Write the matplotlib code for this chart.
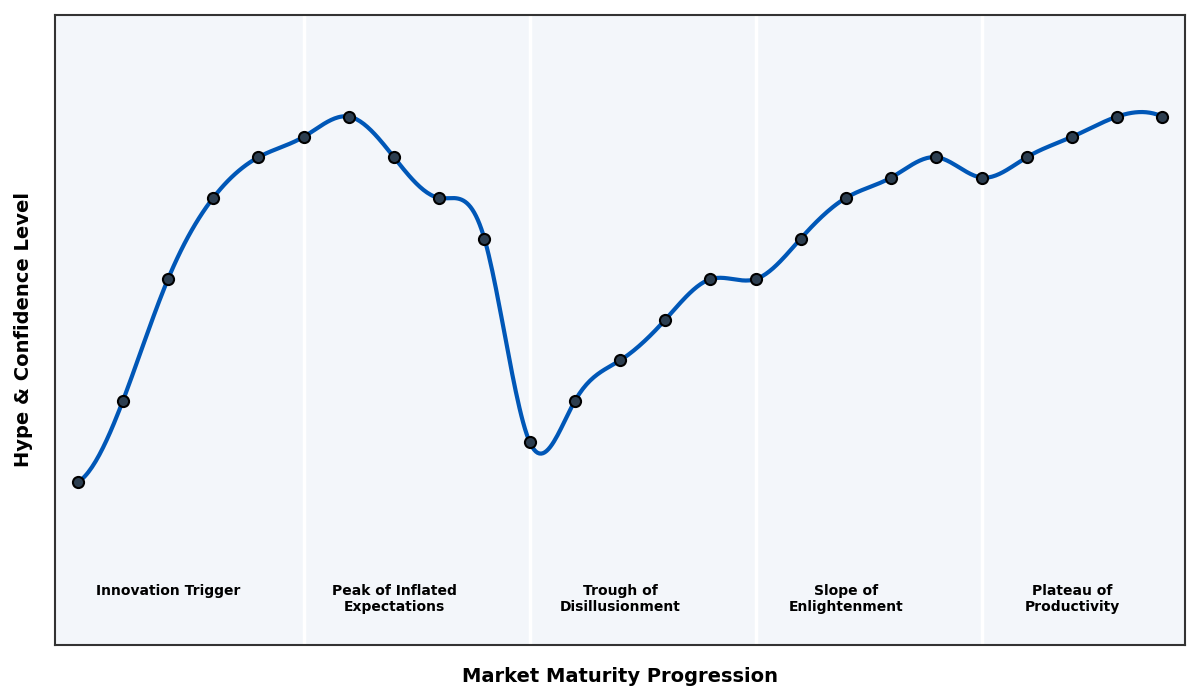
import numpy as np
import matplotlib
matplotlib.use("Agg")
import matplotlib.pyplot as plt

# hype cycle samples
steps = list(range(25))
hype = [10, 30, 60, 80, 90, 95, 100, 90, 80, 70,
        20, 30, 40, 50, 60, 60, 70, 80, 85, 90,
        85, 90, 95, 100, 100]

phase_bounds = [5, 10, 15, 20]
phase_names = ["Innovation Trigger", "Peak of Inflated\nExpectations",
               "Trough of\nDisillusionment", "Slope of\nEnlightenment",
               "Plateau of\nProductivity"]
phase_centers = [2, 7, 12, 17, 22]


def spline(x, y, xs):
    # not-a-knot cubic spline on a unit grid
    x = np.asarray(x, float)
    y = np.asarray(y, float)
    n = len(x)
    A = np.zeros((n, n))
    b = np.zeros(n)
    for i in range(1, n - 1):
        A[i, i - 1:i + 2] = [1, 4, 1]
        b[i] = 6 * (y[i - 1] - 2 * y[i] + y[i + 1])
    A[0, :3] = [1, -2, 1]
    A[-1, -3:] = [1, -2, 1]
    M = np.linalg.solve(A, b)
    idx = np.clip(np.floor(xs).astype(int), 0, n - 2)
    t = xs - x[idx]
    u = 1 - t
    return (M[idx] * u**3 / 6 + M[idx + 1] * t**3 / 6
            + (y[idx] - M[idx] / 6) * u + (y[idx + 1] - M[idx + 1] / 6) * t)


fig = plt.figure(figsize=(12, 7), dpi=100)
ax = fig.add_axes([0.0458, 0.0786, 0.9417, 0.9])
ax.set_facecolor("#f3f6fa")

for xb in phase_bounds:
    ax.axvline(xb, color="white", lw=2.5, zorder=1)

xs = np.linspace(steps[0], steps[-1], 600)
ax.plot(xs, spline(steps, hype, xs), color="#0057b7", lw=3, zorder=2)
ax.plot(steps, hype, "o", ms=8, color="#2c3e50", mec="black", mew=1.5, zorder=3)

for xc, name in zip(phase_centers, phase_names):
    ax.text(xc, -15, name, ha="center", va="top", fontsize=10,
            fontweight="bold")

ax.set_xlim(-0.5, 24.5)
ax.set_ylim(-30, 125)
ax.set_xticks([])
ax.set_yticks([])
for s in ax.spines.values():
    s.set_color("#333333")
    s.set_linewidth(1.5)

ax.set_xlabel("Market Maturity Progression", fontsize=14, fontweight="bold", labelpad=16)
ax.set_ylabel("Hype & Confidence Level", fontsize=14, fontweight="bold", labelpad=16)

fig.savefig("out.png")
